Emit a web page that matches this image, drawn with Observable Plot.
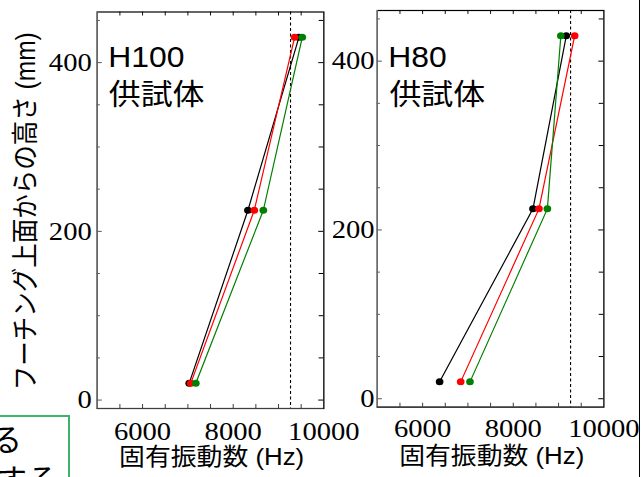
<!DOCTYPE html>
<html><head><meta charset="utf-8">
<script src="https://cdn.jsdelivr.net/npm/d3@7"></script>
<script src="https://cdn.jsdelivr.net/npm/@observablehq/plot@0.6"></script>
<style>
html,body{margin:0;padding:0;background:#fff;width:641px;height:477px;overflow:hidden;position:relative;}
#wrap{position:absolute;left:0;top:0;width:582.727px;height:477px;transform:scaleX(1.1);transform-origin:0 0;}
.panel{position:absolute;top:0;}
.panel svg{overflow:visible;background:transparent;}
#edge{position:absolute;left:638.5px;top:0;width:1.5px;height:477px;background:#000;}
#note{position:absolute;left:-20px;top:415px;width:86px;height:80px;border:2.5px solid #3db36b;}
.nt{position:absolute;font-family:"Noto Sans CJK JP";font-size:31px;line-height:31px;white-space:nowrap;color:#000;}
</style></head><body>
<div id="wrap"><div id="p1" class="panel"></div><div id="p2" class="panel"></div></div>
<div id="note"></div>
<div class="nt" style="left:-9px;top:422px">る</div>
<div class="nt" style="left:-4px;top:462px">する</div>
<div id="edge"></div>
<script>
// ---- data ----
const heights = [20, 225, 430];                 // フーチング上面からの高さ (mm)
const seriesNames = ["black", "red", "green"];
const seriesColors = ["#000000", "#f22d2d", "#4e8540"];
const h100Black = [7030, 8325, 9450];
const h100Red   = [7065, 8465, 9355];
const h100Green = [7175, 8665, 9524];
const h80Black  = [6375, 8435, 9170];
const h80Red    = [6840, 8567, 9355];
const h80Green  = [7045, 8753, 9050];
const refFreq = [9265];                          // dashed reference line
const xTickLabels = [6000, 8000, 10000];
const xTickMarks = [5500, 6000, 6500, 7000, 7500, 8000, 8500, 9000, 9500];
const yTickLabels = [0, 200, 400];
const yTickMinor = [50, 100, 150, 250, 300, 350, 450];
const xDomain = [5000, 10000];
const yDomain = [-10, 460];
const titleLine1 = ["H100", "H80"];
const titleLine2 = "供試体";
const xLabel = "固有振動数 (Hz)";
const yLabel = "フーチング上面からの高さ (mm)";

function rowsOf(b, r, g) {
  const rows = [];
  [b, r, g].forEach((vals, si) => vals.forEach((v, i) => rows.push({series: seriesNames[si], x: v, y: heights[i]})));
  return rows;
}

const SANS = "Liberation Sans, Noto Sans CJK JP";
const SERIF = "Liberation Serif";

function makePanel(cfg) {
  const fw = cfg.width - cfg.ml - cfg.mr;
  const fh = cfg.height - cfg.mt - cfg.mb;
  const rows = rowsOf(...cfg.data);
  const marks = [
    Plot.ruleX(refFreq, {x: d => d, stroke: "#000", strokeWidth: 1, strokeDasharray: "3,2.5"}),
    Plot.line(rows, {x: "x", y: "y", z: "series", stroke: "series", strokeWidth: 1.1}),
    Plot.dot(rows, {x: "x", y: "y", fill: "series", r: 3.5}),
    // inward ticks
    Plot.tickX(xTickMarks, {x: d => d, insetBottom: fh - 4, stroke: "#000", strokeWidth: 0.9}),
    Plot.tickX(xTickMarks, {x: d => d, insetTop: fh - 4, stroke: "#333", strokeWidth: 0.9}),
    Plot.tickY(yTickLabels, {y: d => d, insetRight: fw - 4.6, stroke: "#555", strokeWidth: 1}),
    Plot.tickY(yTickLabels, {y: d => d, insetLeft: fw - 4.6, stroke: "#000", strokeWidth: 1}),
    Plot.tickY(yTickMinor, {y: d => d, insetRight: fw - 2.8, stroke: "#555", strokeWidth: 1}),
    Plot.tickY(yTickMinor, {y: d => d, insetLeft: fw - 4.2, stroke: "#000", strokeWidth: 1}),
    Plot.frame({stroke: "#000", strokeWidth: 1.2}),
    Plot.ruleX([xDomain[0]], {stroke: "#707070", strokeWidth: 1.2}),
    Plot.ruleY([yDomain[0]], {stroke: "#404040", strokeWidth: 1.2}),
    Plot.axisX({ticks: xTickLabels, tickSize: 0, tickPadding: cfg.xPad, tickFormat: d => String(d),
      fontSize: 26, fontFamily: SERIF, label: null}),
    Plot.axisY({ticks: yTickLabels, tickSize: 0, tickPadding: cfg.yPad, tickFormat: d => String(d),
      fontSize: 26, fontFamily: SERIF, label: null}),
    Plot.text([cfg.title], {text: d => d, frameAnchor: "top-left", textAnchor: "start", dx: 10, dy: cfg.t1dy,
      fontSize: 29, fontFamily: SANS}),
    Plot.text([titleLine2], {text: d => d, frameAnchor: "top-left", textAnchor: "start", dx: cfg.t2dx, dy: cfg.t2dy,
      fontSize: 29, fontFamily: SANS}),
    Plot.text([xLabel], {text: d => d, frameAnchor: "bottom", textAnchor: "middle", dx: 1, dy: cfg.xlDy,
      fontSize: 23.5, fontFamily: SANS})
  ];
  if (cfg.yLabel) {
    marks.push(Plot.text([yLabel], {text: d => d, frameAnchor: "left", textAnchor: "middle", lineAnchor: "middle",
      rotate: -90, dx: -64.7, dy: 1, fontSize: 24.5, fontFamily: SANS}));
  }
  const svg = Plot.plot({
    width: cfg.width, height: cfg.height,
    marginLeft: cfg.ml, marginRight: cfg.mr, marginTop: cfg.mt, marginBottom: cfg.mb,
    x: {domain: xDomain},
    y: {domain: yDomain},
    color: {domain: seriesNames, range: seriesColors},
    style: {background: "transparent", overflow: "visible", color: "#000"},
    marks
  });
  const el = document.getElementById(cfg.el);
  el.style.left = cfg.left + "px";
  el.appendChild(svg);
}

makePanel({el: "p1", left: 0, width: 300, height: 477, ml: 87.9, mr: 6.1, mt: 11.5, mb: 69,
  data: [h100Black, h100Red, h100Green], title: titleLine1[0],
  xPad: 13.5, yPad: 5, t1dy: 34.2, t2dx: 10.5, t2dy: 72.7, xlDy: 56.4, yLabel: true});
makePanel({el: "p2", left: 300, width: 282.7, height: 477, ml: 42.5, mr: 34.2, mt: 10, mb: 70.3,
  data: [h80Black, h80Red, h80Green], title: titleLine1[1],
  xPad: 11.8, yPad: 2.5, t1dy: 35.7, t2dx: 11, t2dy: 74.2, xlDy: 56.7, yLabel: false});
</script>
</body></html>
